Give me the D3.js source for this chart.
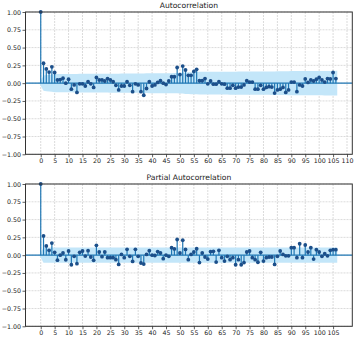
<!DOCTYPE html>
<html>
<head>
<meta charset="utf-8">
<script src="https://cdn.jsdelivr.net/npm/d3@7"></script>
<style>
  body { margin: 0; background: #fff; }
  svg { display: block; font-family: "DejaVu Sans", sans-serif; }
</style>
</head>
<body>
<div id="chart"></div>
<script>
// values, lags 0..106
const acfValues = [1.0, 0.28, 0.20, 0.155, 0.23, 0.15, 0.045, 0.05, 0.07, 0.0,
  0.055, -0.085, -0.025, -0.13, -0.01, -0.01, -0.04, 0.02, -0.01, -0.06,
  0.08, 0.045, 0.045, 0.03, 0.065, 0.045, 0.02, -0.03, -0.095, -0.04,
  -0.04, 0.02, -0.03, -0.12, -0.01, -0.025, -0.12, -0.17, -0.075, 0.02,
  -0.04, -0.025, 0.01, 0.035, 0.0, -0.02, 0.03, 0.09, 0.09, 0.22,
  0.12, 0.24, 0.185, 0.11, 0.11, 0.165, 0.195, 0.035, 0.035, 0.065,
  -0.01, 0.03, -0.015, -0.015, 0.02, -0.01, -0.015, -0.07, -0.07, -0.03,
  -0.07, -0.055, -0.055, -0.025, 0.035, 0.015, 0.015, -0.085, -0.085, -0.03,
  -0.085, -0.06, -0.05, -0.055, -0.14, -0.095, -0.085, -0.06, -0.13, -0.095,
  0.015, 0.015, -0.12, -0.025, -0.04, 0.06, 0.01, 0.045, 0.03, 0.055,
  0.08, 0.045, 0.015, 0.065, 0.06, 0.15, 0.065];

const pacfValues = [1.0, 0.27, 0.13, 0.068, 0.17, 0.04, -0.07, 0.0, 0.03, -0.065,
  0.058, -0.135, -0.017, -0.12, 0.04, 0.058, -0.013, 0.063, -0.026, -0.073,
  0.138, 0.044, -0.022, 0.044, -0.036, -0.036, -0.036, -0.064, -0.13, 0.01,
  -0.036, 0.082, -0.017, -0.088, 0.082, -0.017, -0.11, -0.125, 0.01, 0.063,
  0.0, -0.005, 0.05, 0.03, -0.05, 0.0, -0.017, 0.105, 0.087, 0.22,
  0.03, 0.21, 0.08, -0.064, 0.01, 0.044, 0.09, -0.105, 0.03, -0.026,
  -0.055, 0.05, 0.054, -0.097, 0.068, -0.036, -0.083, -0.017, -0.064, -0.036,
  -0.135, -0.064, -0.135, -0.105, 0.044, 0.058, -0.036, -0.064, -0.1, 0.04,
  -0.083, -0.036, -0.026, -0.026, -0.13, -0.017, 0.058, 0.01, -0.01, -0.01,
  0.105, 0.105, -0.036, 0.16, -0.036, 0.143, 0.044, 0.105, -0.055, 0.077,
  0.044, -0.017, 0.02, -0.01, 0.068, 0.077, 0.077];

const acfTicks = [0, 5, 10, 15, 20, 25, 30, 35, 40, 45, 50, 55, 60, 65, 70, 75, 80, 85, 90, 95, 100, 105, 110];
const pacfTicks = [0, 5, 10, 15, 20, 25, 30, 35, 40, 45, 50, 55, 60, 65, 70, 75, 80, 85, 90, 95, 100, 105];
const yTicks = [-1.0, -0.75, -0.5, -0.25, 0.0, 0.25, 0.5, 0.75, 1.0];
const titles = ["Autocorrelation", "Partial Autocorrelation"];
const nObs = 335;   // sample size behind the 95% band
const z = 1.96;

// 95% bands, centred on zero, as statsmodels builds them
function bartlettBand(r) {
  const out = [0];
  let cum = 0;
  for (let k = 1; k < r.length; k++) {
    if (k >= 2) cum += r[k - 1] * r[k - 1];
    out.push(z * Math.sqrt((1 + 2 * cum) / nObs));
  }
  return out;
}
function flatBand(r) {
  return r.map((d, i) => i === 0 ? 0 : z / Math.sqrt(nObs));
}

const W = 359, H = 340;
const svg = d3.select("#chart").append("svg")
  .attr("width", W)
  .attr("height", H);

const blue = "#1f77b4";
const markerColor = "#1c4f8a";

function drawPanel(top, values, band, xTicks, title) {
  const left = 25.5, right = 352.3, bottom = top + 142.3;

  const x = d3.scaleLinear().domain([-5.47, 111.9]).range([left, right]);
  const y = d3.scaleLinear().domain([-1, 1]).range([bottom, top]);

  const g = svg.append("g");

  // grid
  g.append("g").selectAll("line").data(xTicks).join("line")
    .attr("x1", d => x(d)).attr("x2", d => x(d))
    .attr("y1", top).attr("y2", bottom)
    .attr("stroke", "#d2d2d2").attr("stroke-width", 0.8)
    .attr("stroke-dasharray", "2,1");
  g.append("g").selectAll("line").data(yTicks).join("line")
    .attr("x1", left).attr("x2", right)
    .attr("y1", d => y(d)).attr("y2", d => y(d))
    .attr("stroke", "#d2d2d2").attr("stroke-width", 0.8)
    .attr("stroke-dasharray", "2,1");

  // confidence band
  const lags = values.map((d, i) => i);
  const bandLags = lags.slice();
  bandLags[0] -= 0.5;
  bandLags[bandLags.length - 1] += 0.5;
  const area = d3.area()
    .x((d, i) => x(bandLags[i]))
    .y0(d => y(-d))
    .y1(d => y(d));
  g.append("path")
    .datum(band)
    .attr("fill", "#c3e6f9")
    .attr("d", area);

  // stems
  g.append("g").selectAll("line").data(values).join("line")
    .attr("x1", (d, i) => x(i)).attr("x2", (d, i) => x(i))
    .attr("y1", y(0)).attr("y2", d => y(d))
    .attr("stroke", blue).attr("stroke-width", 1.2);

  // zero line
  g.append("line")
    .attr("x1", left).attr("x2", right)
    .attr("y1", y(0)).attr("y2", y(0))
    .attr("stroke", blue).attr("stroke-width", 1.4);

  // markers
  g.append("g").selectAll("circle").data(values).join("circle")
    .attr("cx", (d, i) => x(i))
    .attr("cy", d => y(d))
    .attr("r", 1.9)
    .attr("fill", markerColor);

  // axes
  const xAxis = g.append("g")
    .attr("transform", `translate(0,${bottom})`)
    .call(d3.axisBottom(x).tickValues(xTicks).tickSize(3).tickPadding(1.5));
  const yAxis = g.append("g")
    .attr("transform", `translate(${left},0)`)
    .call(d3.axisLeft(y).tickValues(yTicks).tickSize(3).tickPadding(1.5)
      .tickFormat(d => d3.format(".2f")(d).replace("-", "\u2212")));
  [xAxis, yAxis].forEach(a => {
    a.select(".domain").remove();
    a.selectAll("line").attr("stroke", "#333").attr("stroke-width", 0.8);
    a.selectAll("text").attr("font-size", 6.3).attr("fill", "#222")
      .attr("font-family", "DejaVu Sans, sans-serif");
  });

  // frame
  g.append("rect")
    .attr("x", left).attr("y", top)
    .attr("width", right - left).attr("height", bottom - top)
    .attr("fill", "none")
    .attr("stroke", "#333").attr("stroke-width", 1);

  // title
  g.append("text")
    .attr("x", (left + right) / 2)
    .attr("y", top - 4)
    .attr("text-anchor", "middle")
    .attr("font-size", 7.6)
    .attr("fill", "#222")
    .text(title);
}

drawPanel(12, acfValues, bartlettBand(acfValues), acfTicks, titles[0]);
drawPanel(184, pacfValues, flatBand(pacfValues), pacfTicks, titles[1]);
</script>
</body>
</html>
